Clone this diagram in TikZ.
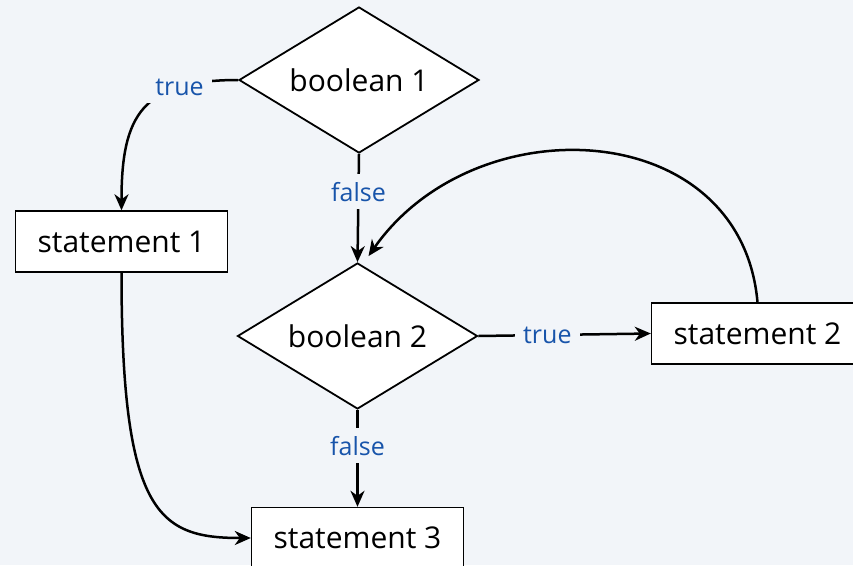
\documentclass[tikz,border=0pt]{standalone}
\usepackage{fontspec}
\setmainfont{Open Sans}
\usetikzlibrary{shapes.geometric}
\usetikzlibrary{arrows.meta}
\definecolor{page-bg}{RGB}{242,245,249}
\definecolor{label-blue}{RGB}{24,84,170}
\tikzstyle{decision}=[diamond,draw,fill=white,line width=1.8pt,inner sep=0pt,aspect=1.64,minimum width=240pt,minimum height=146pt,font=\fontsize{30}{36}\selectfont]
\tikzstyle{statement}=[rectangle,draw,fill=white,line width=1.4pt,minimum width=212pt,minimum height=61pt,font=\fontsize{30}{36}\selectfont]
\tikzstyle{flow}=[-{Stealth[length=16pt,width=14pt,inset=5pt]},line width=2.5pt]
\tikzstyle{branch}=[fill=page-bg,text=label-blue,inner sep=8pt,font=\fontsize{25}{30}\selectfont]
\begin{document}
\begin{tikzpicture}[x=1pt,y=-1pt]
% background
\fill[page-bg] (0,0) rectangle (853,565);
\useasboundingbox (0,0) rectangle (853,565);
% decisions
\node[decision] (b1) at (359,80) {boolean 1};
\node[decision] (b2) at (357.5,336) {boolean 2};
% statements
\node[statement] (s1) at (121.5,241.5) {statement 1};
\node[statement] (s2) at (757.5,333.5) {statement 2};
\node[statement] (s3) at (357.5,538) {statement 3};
\coordinate (loopin) at ([xshift=11pt,yshift=6pt]b2.north);
% branches
\draw[flow] (b1.west) to[out=180,in=90,looseness=1.4] node[branch,pos=0.25]{true} (s1.north);
\draw[flow] (b1.south) -- node[branch,pos=0.35]{false} (b2.north);
\draw[flow] (b2.east) -- node[branch,pos=0.4]{true} (s2.west);
\draw[flow] (b2.south) -- node[branch,pos=0.37]{false} (s3.north);
% joins
\draw[flow] (s1.south) to[out=-90,in=180,out looseness=2.1,in looseness=0.8] (s3.west);
\draw[flow] (s2.north) to[out=95,in=55,looseness=1.22] (loopin);
\end{tikzpicture}
\end{document}
